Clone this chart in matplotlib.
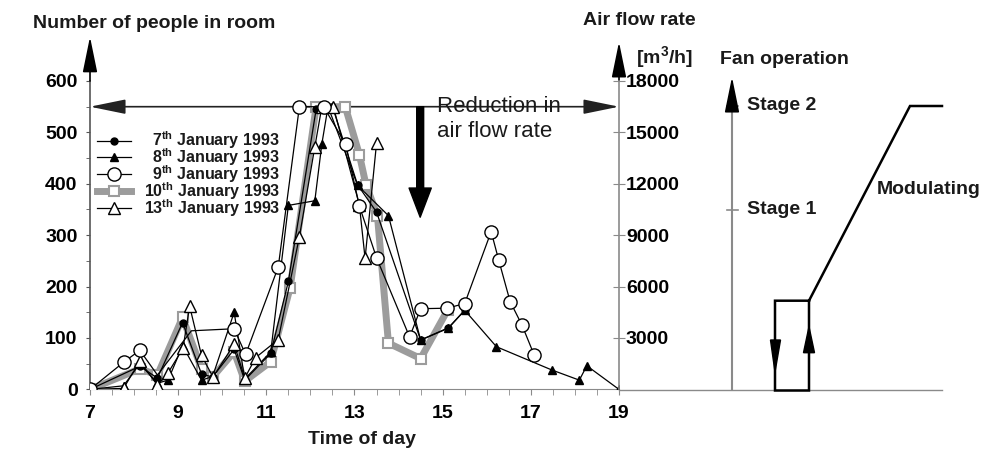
import numpy as np
import matplotlib
matplotlib.use('Agg')
import matplotlib.pyplot as plt
from matplotlib.lines import Line2D

# occupancy readings (time of day in hours, number of people)
hours_jan07 = [7.0, 8.13, 8.53, 9.1, 9.53, 9.78, 10.27, 10.51, 11.1, 11.5, 12.13, 12.5,
               13.07, 13.5, 14.5, 15.13, 15.5]
people_jan07 = [0, 45, 22, 130, 30, 24, 78, 18, 70, 210, 545, 550,
                398, 345, 96, 120, 154]

hours_jan08 = [7.0, 7.76, 8.13, 8.53, 8.77, 9.1, 9.53, 9.78, 10.27, 10.51, 11.1, 11.5,
               12.1, 12.26, 12.4, 13.07, 13.77, 14.5, 15.13, 15.5, 16.22, 17.47, 18.1,
               18.27, 19.0]
people_jan08 = [0, 7, 50, 12, 18, 85, 18, 25, 150, 20, 73, 358,
                367, 478, 550, 397, 338, 96, 119, 154, 83, 38, 18,
                46, 0]

hours_jan09 = [7.0, 7.78, 8.13, 8.53, 9.3, 10.27, 10.53, 11.27, 11.75, 12.3, 12.8, 13.11,
               13.5, 14.25, 14.5, 15.1, 15.5, 16.1, 16.27, 16.53, 16.8, 17.08]
people_jan09 = [0, 54, 76, 28, 114, 118, 68, 238, 550, 550, 477, 357,
                256, 102, 157, 158, 167, 307, 252, 171, 125, 66]
# readings drawn without a marker in the original
hidden_jan09 = [3, 4]

hours_jan10 = [7.0, 8.13, 8.53, 9.1, 9.53, 9.78, 10.27, 10.51, 11.1, 11.54, 12.13, 12.79,
               13.11, 13.26, 13.52, 13.77, 14.5, 15.11]
people_jan10 = [0, 40, 28, 140, 40, 24, 73, 16, 54, 198, 550, 550,
                457, 398, 338, 90, 60, 154]

hours_jan13 = [7.0, 7.76, 8.13, 8.53, 8.77, 9.11, 9.26, 9.53, 9.79, 10.27, 10.51, 10.76,
               11.27, 11.75, 12.1, 12.26, 12.52, 13.11, 13.24, 13.5]
people_jan13 = [0, 2, 55, 8, 32, 80, 162, 66, 24, 88, 22, 62,
                97, 297, 472, 550, 550, 359, 255, 479]

series_labels = [r'7$^{\mathrm{th}}$ January 1993', r'8$^{\mathrm{th}}$ January 1993',
                 r'9$^{\mathrm{th}}$ January 1993', r'10$^{\mathrm{th}}$ January 1993',
                 r'13$^{\mathrm{th}}$ January 1993']

people_ticks = [0, 100, 200, 300, 400, 500, 600]
flow_ticks = [3000, 6000, 9000, 12000, 15000, 18000]
hour_ticks = [7, 9, 11, 13, 15, 17, 19]
reduction_level = 550  # people, start of the airflow reduction

plt.rcParams['font.family'] = 'Liberation Sans'
plt.rcParams['font.weight'] = 'bold'
plt.rcParams['font.size'] = 14
plt.rcParams['text.color'] = '#1a1a1a'
plt.rcParams['mathtext.fontset'] = 'custom'
plt.rcParams['mathtext.rm'] = 'Liberation Sans:bold'
plt.rcParams['mathtext.bf'] = 'Liberation Sans:bold'
plt.rcParams['mathtext.it'] = 'Liberation Sans:bold:italic'

W, H = 992, 459
fig = plt.figure(figsize=(W / 100, H / 100), dpi=100)


def fx(px):
    return px / W


def fy(py):
    return 1 - py / H


# main chart area in pixels
X0, X1, Y0, Y1 = 90, 619, 389.4, 81
ax = fig.add_axes([fx(X0), fy(Y0), fx(X1) - fx(X0), fy(Y1) - fy(Y0)])
ax.set_xlim(7, 19)
ax.set_ylim(0, 600)
ax.patch.set_alpha(0)

gray = '#8a8a8a'
dark = '#222222'

styles = [
    dict(color='black', lw=0.9, marker='o', ms=5, mfc='black', mec='black'),
    dict(color='black', lw=0.9, marker='^', ms=6, mfc='black', mec='black'),
    dict(color='black', lw=0.9, marker='o', ms=9.5, mfc='white', mec='black', mew=1.0),
    dict(color='#9c9c9c', lw=5, marker='s', ms=7.5, mfc='white', mec='#9c9c9c', mew=1.5),
    dict(color='black', lw=0.9, marker='^', ms=9, mfc='white', mec='black', mew=1.0),
]

shown_jan09 = [i for i in range(len(hours_jan09)) if i not in hidden_jan09]

ax.plot(hours_jan10, people_jan10, zorder=2, **styles[3])
ax.plot(hours_jan07, people_jan07, zorder=3, **styles[0])
ax.plot(hours_jan08, people_jan08, zorder=3, **styles[1])
ax.plot(hours_jan13, people_jan13, zorder=3, **styles[4])
ax.plot(hours_jan09, people_jan09, zorder=3, markevery=shown_jan09, **styles[2])

# axes styling
for s in ['top', 'right']:
    ax.spines[s].set_visible(False)
ax.spines['left'].set_color('#555555')
ax.spines['bottom'].set_color(gray)
ax.spines['left'].set_linewidth(1.2)
ax.set_xticks(hour_ticks)
ax.set_xticks(np.arange(7, 19.01, 0.5), minor=True)
ax.set_yticks(people_ticks)
ax.set_yticks(np.arange(50, 600, 100), minor=True)
ax.tick_params(axis='x', which='both', direction='out', length=4, color=gray, pad=7)
ax.tick_params(axis='y', which='both', direction='out', length=3, color='#555555', pad=6)
ax.tick_params(labelsize=14)

ax2 = ax.twinx()
ax2.set_ylim(0, 18000)
ax2.set_yticks(flow_ticks)
for s in ['top', 'left', 'bottom']:
    ax2.spines[s].set_visible(False)
ax2.spines['right'].set_color(gray)
ax2.spines['right'].set_linewidth(1.2)
ax2.tick_params(axis='y', direction='inout', length=8, color=gray, pad=1, labelsize=14)

head = '-|>,head_length=2.2,head_width=0.45'
arrow_kw = dict(arrowstyle=head, color='black', lw=1.2, shrinkA=0, shrinkB=0,
                mutation_scale=10)
ax.annotate('', xy=(7, 686), xytext=(7, 600), annotation_clip=False, arrowprops=arrow_kw)
ax.annotate('', xy=(19, 676), xytext=(19, 600), annotation_clip=False, arrowprops=arrow_kw)
ax.annotate('', xy=(7, reduction_level), xytext=(19, reduction_level), zorder=1,
            annotation_clip=False,
            arrowprops=dict(arrowstyle='<|-|>,head_length=2.2,head_width=0.45',
                            color=dark, lw=1.2, shrinkA=0, shrinkB=0, mutation_scale=10))
ax.annotate('', xy=(14.49, 335), xytext=(14.49, reduction_level), zorder=4,
            arrowprops=dict(arrowstyle='simple,head_length=2.1,head_width=1.6,tail_width=0.5',
                            fc='black', ec='black', shrinkA=0, shrinkB=0, mutation_scale=10))

# legend, labels right aligned as in the original
leg_top, leg_step = 0.807, 0.0545
for i, (lab, st) in enumerate(zip(series_labels, styles)):
    ya = leg_top - i * leg_step
    ax.add_line(Line2D([0.013, 0.045, 0.078], [ya] * 3, markevery=[1],
                       transform=ax.transAxes, clip_on=False, zorder=5, **st))
    ax.text(0.359, ya, lab, transform=ax.transAxes, ha='right', va='center',
            fontsize=11.5, zorder=5)

# overlay in pixel coordinates for titles and the fan operation sketch
ov = fig.add_axes([0, 0, 1, 1])
ov.set_xlim(0, W)
ov.set_ylim(H, 0)
ov.axis('off')
ov.patch.set_alpha(0)

ov.text(33, 28, 'Number of people in room', va='baseline')
ov.text(583, 25, 'Air flow rate', va='baseline')
ov.text(636, 63, '[m$^3$/h]', va='baseline')
ov.text(720, 64, 'Fan operation', va='baseline')
ov.text(362, 440, 'Time of day', ha='center', va='center')
ov.text(437, 96, 'Reduction in\nair flow rate', va='top', fontweight='normal',
        fontsize=16, linespacing=1.25)

# fan operation sketch
ov.plot([X1, 942], [Y0 + 0.5, Y0 + 0.5], color=gray, lw=1)
ov.plot([732, 732], [Y0, 98], color=gray, lw=1.5)
ov.annotate('', xy=(732, 77), xytext=(732, 100), arrowprops=arrow_kw)
for yy, lab in [(106, 'Stage 2'), (210, 'Stage 1')]:
    ov.plot([727, 738], [yy, yy], color=gray, lw=1.2)
    ov.text(747, yy, lab, va='center')
ov.plot([809, 775, 775, 809, 809, 910, 942], [300.7, 300.7, 390.5, 390.5, 300.7, 106, 106],
        color='black', lw=1.8, solid_joinstyle='miter')
ov.fill([770.5, 780.5, 775], [340, 340, 372], color='black')
ov.fill([803.5, 814.5, 809], [352.7, 352.7, 326.7], color='black')
ov.text(877, 190, 'Modulating', va='center')

fig.savefig('out.png', dpi=100)
